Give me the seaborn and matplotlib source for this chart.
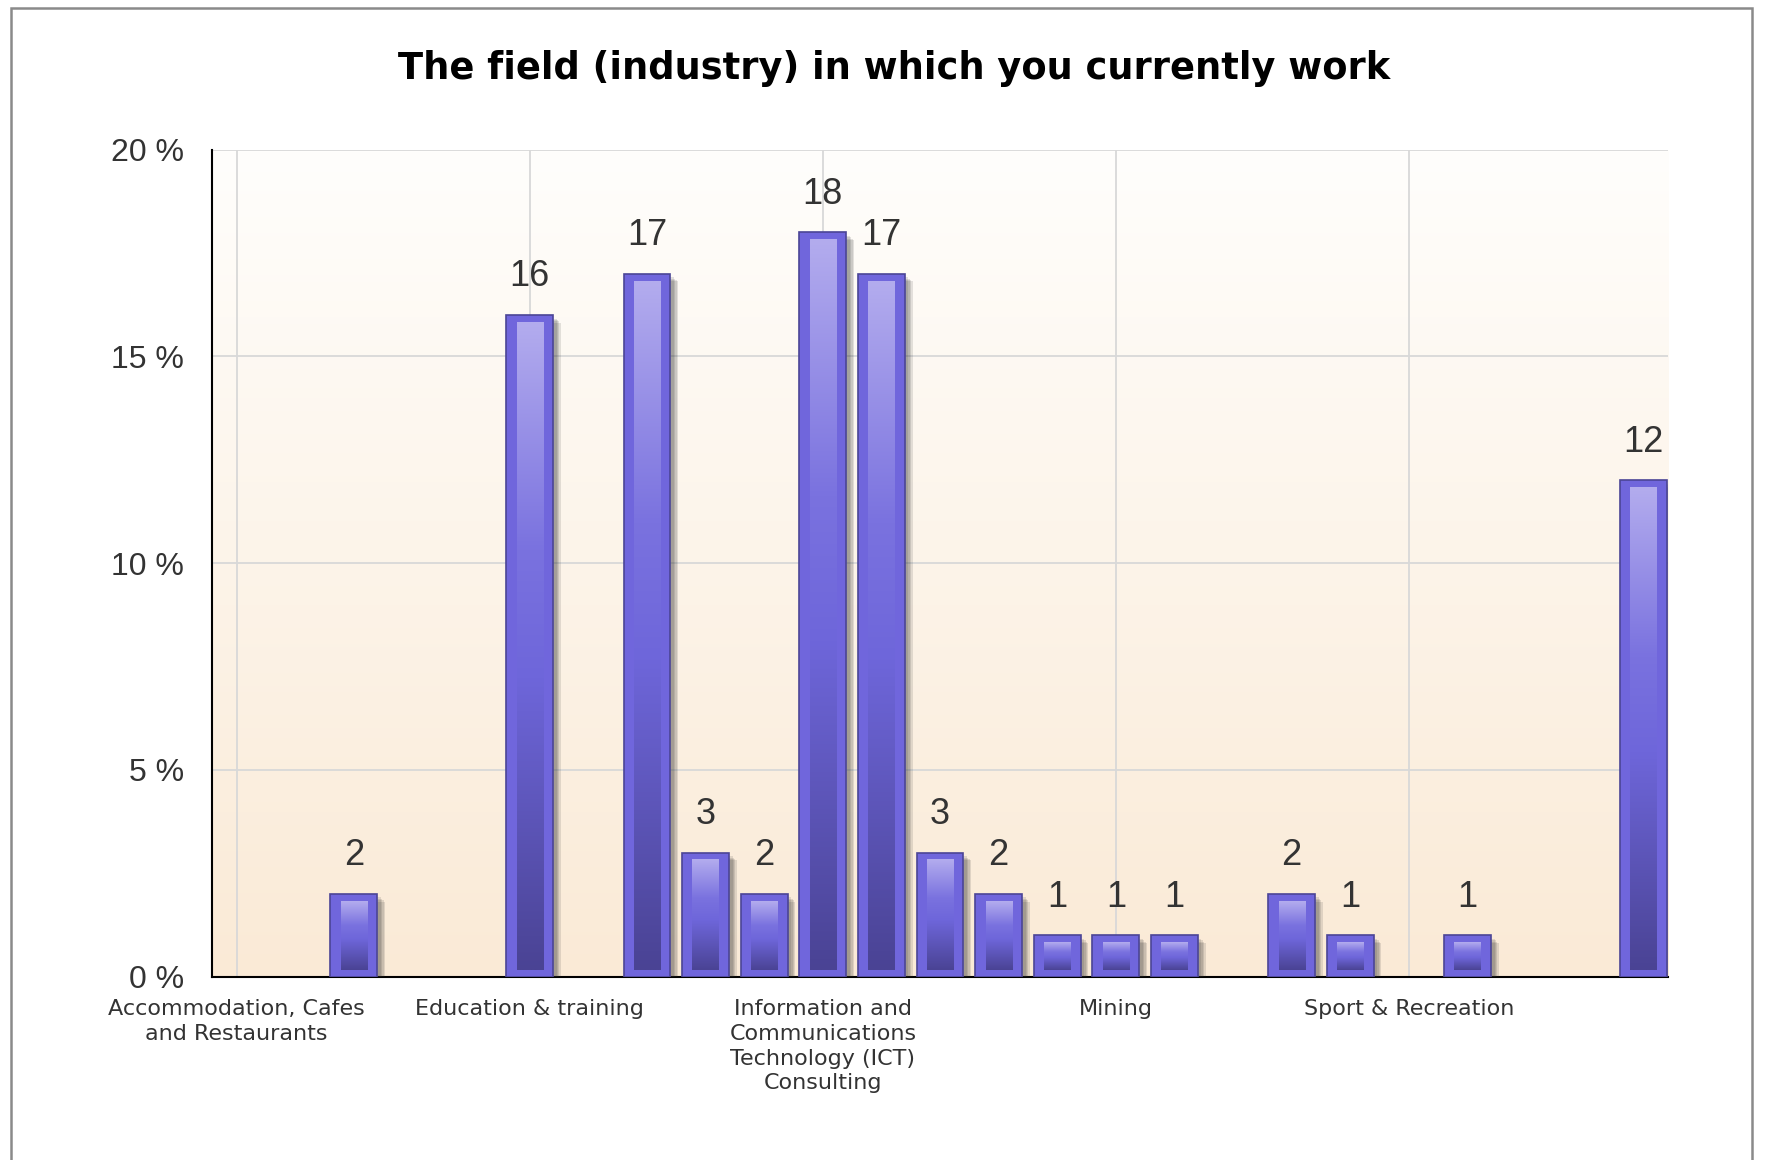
import numpy as np
import pandas as pd
import matplotlib
matplotlib.use('Agg')
import matplotlib.pyplot as plt
import matplotlib.patheffects as pe
from matplotlib.colors import LinearSegmentedColormap
from matplotlib.patches import Rectangle
import seaborn as sns

# data
title = 'The field (industry) in which you currently work'
slots = list(range(25))
counts = [0, 0, 2, 0, 0, 16, 0, 17, 3, 2, 18, 17, 3, 2, 1, 1, 1, 0, 2, 1, 0, 1, 0, 0, 12]
respondents = 100
tick_slots = [0, 5, 10, 15, 20]
tick_labels = [
    'Accommodation, Cafes\nand Restaurants',
    'Education & training',
    'Information and\nCommunications\nTechnology (ICT)\nConsulting',
    'Mining',
    'Sport & Recreation',
]
y_ticks = [0, 5, 10, 15, 20]

sns.set_style('white')
plt.rcParams['font.family'] = ['Liberation Sans', 'DejaVu Sans']

W, H = 1767, 1160
fig = plt.figure(figsize=(W / 100, H / 100), dpi=100)
ax = fig.add_axes([0.120, 0.158, 0.824, 0.713])

df = pd.DataFrame({'slot': slots, 'pct': [c * 100 / respondents for c in counts]})
sns.barplot(data=df, x='slot', y='pct', color='#7066DC', saturation=1, width=0.8,
            edgecolor='#4B4596', linewidth=1.2, ax=ax, zorder=3)

# soft background gradient (white at top -> peach at bottom)
bg_cmap = LinearSegmentedColormap.from_list('bg', ['#FAEAD6', '#FFFEFC'])
ax.imshow(np.linspace(1, 0, 256).reshape(-1, 1), cmap=bg_cmap, aspect='auto',
          extent=[0, 1, 0, 1], transform=ax.transAxes, zorder=0)

# glossy inner strip + soft drop shadow on each bar
bar_cmap = LinearSegmentedColormap.from_list(
    'bar', [(0.0, '#4A4394'), (0.45, '#6E66DA'), (0.65, '#7A72DF'), (1.0, '#B3ACEE')])
shadow = [pe.SimplePatchShadow(offset=(d, -d), shadow_rgbFace='#303030', alpha=0.13)
          for d in (5.5, 4.5, 3.5, 2.5)]
inset = 0.17
for p, c in zip(ax.patches, counts):
    if c == 0:
        p.set_visible(False)
        continue
    p.set_path_effects(shadow + [pe.Normal()])
    x0, w, h = p.get_x(), p.get_width(), p.get_height()
    ax.imshow(np.linspace(1, 0, 256).reshape(-1, 1), cmap=bar_cmap, aspect='auto',
              extent=[x0 + 0.22 * w, x0 + 0.78 * w, inset, h - inset], zorder=4,
              interpolation='bilinear')
    ax.annotate(str(c), (x0 + w / 2, h), xytext=(0, 15), textcoords='offset points',
                ha='center', va='bottom', fontsize=26, color='#333333', zorder=5)

ax.set_xlim(-0.42, len(slots) - 0.58)
ax.set_ylim(0, 20)

ax.set_yticks(y_ticks)
ax.set_yticklabels([f'{v} %' for v in y_ticks], fontsize=23, color='#333333')
ax.set_xticks(tick_slots)
ax.set_xticklabels(tick_labels, fontsize=16, color='#333333', linespacing=1.3,
                   family='DejaVu Sans')
ax.tick_params(axis='y', length=12, width=1.2, pad=8, color='#333333')
ax.tick_params(axis='x', length=8, width=1.2, pad=8, color='#333333')

ax.set_axisbelow(True)
ax.grid(True, color='#d8d8d8', linewidth=1.3)
for s in ['top', 'right']:
    ax.spines[s].set_visible(False)
for s in ['left', 'bottom']:
    ax.spines[s].set_color('black')
    ax.spines[s].set_linewidth(1.5)
ax.set_xlabel('')
ax.set_ylabel('')

fig.text(0.506, 0.941, title, ha='center', va='center', fontsize=26.5,
         fontweight='bold', family='DejaVu Sans', color='black')

# outer frame of the widget
fig.patches.append(Rectangle((11 / W, -0.05), (1752 - 11) / W, 1.05 - 8 / H,
                             transform=fig.transFigure, fill=False,
                             edgecolor='#8a8a8a', linewidth=1.8))

fig.savefig('out.png', dpi=100)
